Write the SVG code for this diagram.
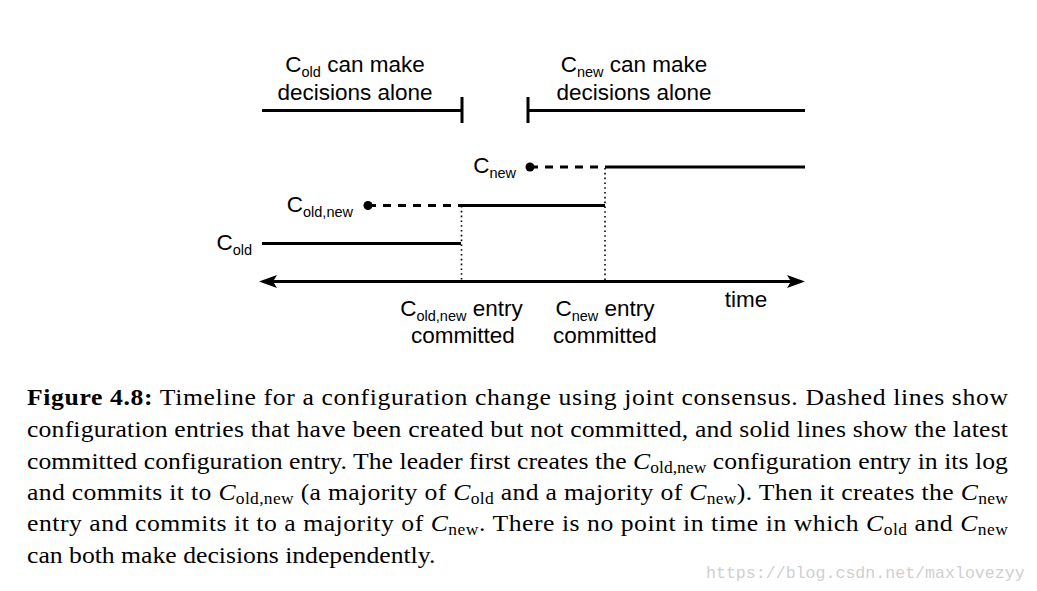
<svg xmlns="http://www.w3.org/2000/svg" width="1037" height="591" viewBox="0 0 1037 591">
<style>
.lbl{font-family:"Liberation Sans",Arial,Helvetica,sans-serif;font-size:22.5px;fill:#000}
.sub{font-size:14.5px}
.cap{font-family:"Liberation Serif","Times New Roman",serif;font-size:23.5px;fill:#000}
.csub{font-size:16px}
.solid{stroke:#000;stroke-width:3;fill:none}
.dash{stroke:#000;stroke-width:3;fill:none;stroke-dasharray:8 7}
.dot{stroke:#000;stroke-width:1.6;fill:none;stroke-dasharray:1.6 3.2}
.wm{font-family:"Liberation Mono","Courier New",monospace;font-size:16.6px;fill:#cfcfcf}
</style>
<defs>
<marker id="arr" viewBox="0 0 18 14" refX="13" refY="7" markerWidth="18" markerHeight="14" markerUnits="userSpaceOnUse" orient="auto-start-reverse">
<path d="M0,0.6 L18,7 L0,13.4 L4,7 Z" fill="#000"/>
</marker>
</defs>
<rect width="1037" height="591" fill="#fff"/>

<g id="cold-alone">
<text class="lbl" x="355" y="72" text-anchor="middle">C<tspan class="sub" dy="5">old</tspan><tspan dy="-5"> can make</tspan></text>
<text class="lbl" x="355" y="100" text-anchor="middle">decisions alone</text>
<path class="solid" d="M262,110.5 H462 M462,97 V123"/>
</g>

<g id="cnew-alone">
<text class="lbl" x="634" y="72" text-anchor="middle">C<tspan class="sub" dy="5">new</tspan><tspan dy="-5"> can make</tspan></text>
<text class="lbl" x="634" y="100" text-anchor="middle">decisions alone</text>
<path class="solid" d="M528,110.5 H805 M528,97 V123"/>
</g>

<g id="cnew-row">
<text class="lbl" x="516" y="173" text-anchor="end">C<tspan class="sub" dy="5">new</tspan></text>
<circle cx="530" cy="167" r="4.5" fill="#000"/>
</g>

<g id="coldnew-row">
<text class="lbl" x="353" y="212" text-anchor="end">C<tspan class="sub" dy="5">old,new</tspan></text>
<circle cx="368" cy="205.5" r="4.5" fill="#000"/>
</g>

<g id="cold-row">
<text class="lbl" x="252" y="250" text-anchor="end">C<tspan class="sub" dy="5">old</tspan></text>
</g>

<g id="connectors">
<path class="dash" d="M530,167 H605"/>
<path class="solid" d="M605,167 H805"/>
<path class="dash" d="M368,205.5 H461"/>
<path class="solid" d="M460,205.5 H605"/>
<path class="solid" d="M262,243.5 H461"/>
<path class="dot" d="M461.5,206 V281"/>
<path class="dot" d="M605,168 V281"/>
<line class="solid" x1="264" y1="281.5" x2="800" y2="281.5" marker-start="url(#arr)" marker-end="url(#arr)"/>
</g>

<g id="axis-labels">
<text class="lbl" x="461.5" y="316" text-anchor="middle">C<tspan class="sub" dy="5">old,new</tspan><tspan dy="-5"> entry</tspan></text>
<text class="lbl" x="463" y="343" text-anchor="middle">committed</text>
<text class="lbl" x="605" y="316" text-anchor="middle">C<tspan class="sub" dy="5">new</tspan><tspan dy="-5"> entry</tspan></text>
<text class="lbl" x="605" y="343" text-anchor="middle">committed</text>
<text class="lbl" x="746" y="307" text-anchor="middle">time</text>
</g>

<g id="caption" transform="translate(27 0) scale(1.093 1)">
<text class="cap" x="0" y="405" textLength="897.5" lengthAdjust="spacing"><tspan font-weight="bold">Figure 4.8:</tspan> Timeline for a configuration change using joint consensus. Dashed lines show</text>
<text class="cap" x="0" y="437" textLength="897.5" lengthAdjust="spacing">configuration entries that have been created but not committed, and solid lines show the latest</text>
<text class="cap" x="0" y="469" textLength="897.5" lengthAdjust="spacing">committed configuration entry. The leader first creates the <tspan font-style="italic">C</tspan><tspan class="csub" dy="4">old,new</tspan><tspan dy="-4"> configuration entry in its log</tspan></text>
<text class="cap" x="0" y="500" textLength="897.5" lengthAdjust="spacing">and commits it to <tspan font-style="italic">C</tspan><tspan class="csub" dy="4">old,new</tspan><tspan dy="-4"> (a majority of </tspan><tspan font-style="italic">C</tspan><tspan class="csub" dy="4">old</tspan><tspan dy="-4"> and a majority of </tspan><tspan font-style="italic">C</tspan><tspan class="csub" dy="4">new</tspan><tspan dy="-4">). Then it creates the </tspan><tspan font-style="italic">C</tspan><tspan class="csub" dy="4">new</tspan></text>
<text class="cap" x="0" y="531" textLength="897.5" lengthAdjust="spacing">entry and commits it to a majority of <tspan font-style="italic">C</tspan><tspan class="csub" dy="4">new</tspan><tspan dy="-4">. There is no point in time in which </tspan><tspan font-style="italic">C</tspan><tspan class="csub" dy="4">old</tspan><tspan dy="-4"> and </tspan><tspan font-style="italic">C</tspan><tspan class="csub" dy="4">new</tspan></text>
<text class="cap" x="0" y="563">can both make decisions independently.</text>
</g>

<text class="wm" x="706" y="578">https://blog.csdn.net/maxlovezyy</text>
</svg>
